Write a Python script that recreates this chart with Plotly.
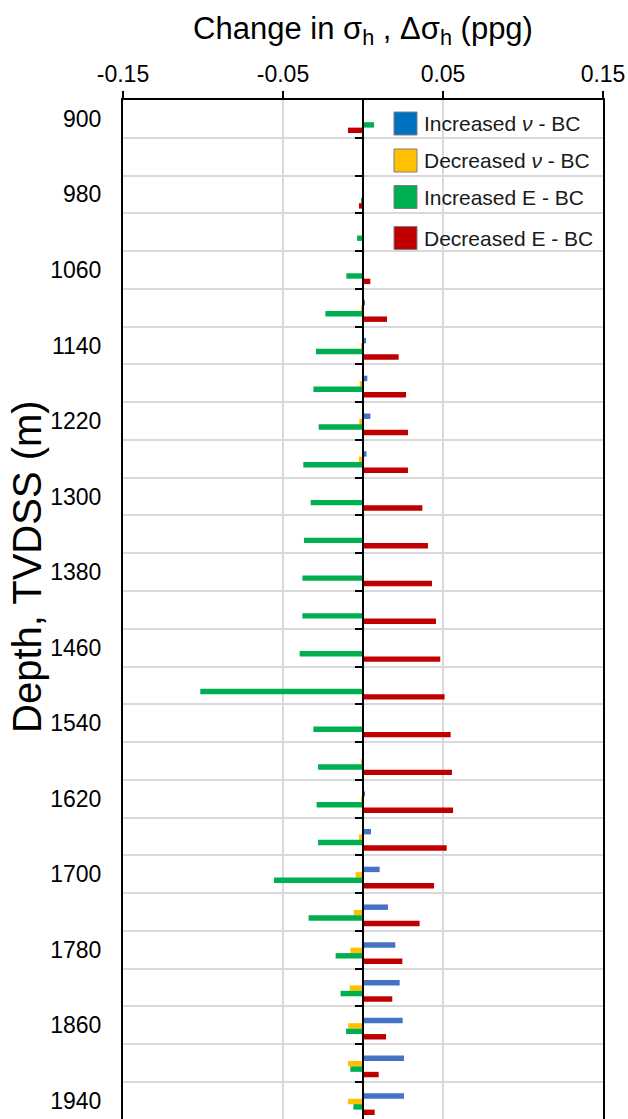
import plotly.graph_objects as go

# Depth of each interval (m TVDSS) and the depths that carry a label
depth_m = [900, 940, 980, 1020, 1060, 1100, 1140, 1180, 1220, 1260, 1300, 1340, 1380, 1420,
           1460, 1500, 1540, 1580, 1620, 1660, 1700, 1740, 1780, 1820, 1860, 1900, 1940]
depth_tick_labels = [900, 980, 1060, 1140, 1220, 1300, 1380, 1460, 1540, 1620, 1700, 1780, 1860, 1940]

# Change in minimum horizontal stress relative to the base case (ppg)
inc_nu = [0.0003, 0.0002, 0.0001, 0.0001, 0.0004, 0.0008, 0.0019, 0.0027, 0.0046, 0.0022,
          -0.0005, 0.0001, 0.0001, 0.0001, 0.0001, -0.0004, -0.0004, 0.0001, 0.0008, 0.0050,
          0.0104, 0.0156, 0.0202, 0.0229, 0.0248, 0.0256, 0.0256]
dec_nu = [0.0, 0.0, -0.0002, -0.0001, -0.0003, -0.0010, -0.0010, -0.0021, -0.0023, -0.0025,
          -0.0003, -0.0002, -0.0002, -0.0002, -0.0002, -0.0002, -0.0003, -0.0008, -0.0012, -0.0025,
          -0.0046, -0.0058, -0.0079, -0.0083, -0.0092, -0.0094, -0.0094]
inc_E = [0.0069, -0.0006, -0.0013, -0.0037, -0.0104, -0.0235, -0.0294, -0.0310, -0.0277, -0.0373,
         -0.0327, -0.0369, -0.0379, -0.0379, -0.0396, -0.1017, -0.0310, -0.0281, -0.0290, -0.0281,
         -0.0556, -0.0340, -0.0171, -0.0140, -0.0106, -0.0079, -0.0060]
dec_E = [-0.0094, -0.0006, -0.0025, 0.0001, 0.0046, 0.0150, 0.0223, 0.0269, 0.0281, 0.0281,
         0.0371, 0.0406, 0.0431, 0.0456, 0.0483, 0.0510, 0.0548, 0.0556, 0.0563, 0.0523,
         0.0444, 0.0354, 0.0246, 0.0183, 0.0144, 0.0098, 0.0073]

x_ticks = [-0.15, -0.05, 0.05, 0.15]
x_tick_text = ["-0.15", "-0.05", "0.05", "0.15"]

series_names = ["Increased <i>ν</i> - BC", "Decreased <i>ν</i> - BC",
                "Increased E - BC", "Decreased E - BC"]
series_values = [inc_nu, dec_nu, inc_E, dec_E]
bar_colors = ["#4472C4", "#FFC000", "#00B050", "#C00000"]
key_colors = ["#0070C0", "#FFC000", "#00B050", "#C00000"]
# Poisson's-ratio cases sit on the labelled depth axis, modulus cases on the
# zero-crossing axis; both axes share one depth range.
series_axes = ["y", "y", "y2", "y2"]

FONT = "Liberation Sans, Arial, sans-serif"
W, H = 628, 1119
M_L, M_R, M_T, M_B = 123, 25, 100, 0
PLOT_W = W - M_L - M_R
PLOT_H = H - M_T - M_B

# bar thickness and the offset of each series inside its 40 m interval
BAR_W = 5.75
bar_offsets = [-8.0, -2.25, 3.5, 9.25]

fig = go.Figure()
for name, vals, col, off, ax in zip(series_names, series_values, bar_colors, bar_offsets, series_axes):
    fig.add_trace(go.Bar(
        x=vals, y=depth_m, orientation="h", name=name,
        width=BAR_W, offset=off, yaxis=ax,
        marker=dict(color=col, line=dict(width=0)),
        showlegend=False,
    ))

# interval boundaries: grid lines and the small ticks on the zero axis
boundaries = [d + 20 for d in depth_m]
y_range = [1959.2, 880]


def fx(px):
    return (px - M_L) / PLOT_W


def fy(py):
    return (H - M_B - py) / PLOT_H


shapes = [
    # key background (covers grid lines, stays under the frame)
    dict(type="rect", xref="paper", yref="paper", x0=fx(382), x1=fx(601.5),
         y0=fy(257), y1=fy(101), fillcolor="white", line=dict(width=0), layer="between"),
]
annotations = [
    dict(xref="paper", yref="paper", x=fx(27), y=fy(567), xanchor="center", yanchor="middle",
         text="Depth, TVDSS (m)", textangle=-90, showarrow=False,
         font=dict(family=FONT, size=40, color="black")),
]
key_rows = [123.5, 160.5, 197, 238]
for name, col, cy in zip(series_names, key_colors, key_rows):
    shapes.append(dict(type="rect", xref="paper", yref="paper",
                       x0=fx(394), x1=fx(417), y0=fy(cy + 11.5), y1=fy(cy - 11.5),
                       fillcolor=col, line=dict(color="#7F7F7F", width=1), layer="above"))
    annotations.append(dict(xref="paper", yref="paper", x=fx(422), y=fy(cy),
                            xanchor="left", yanchor="middle", text=name, showarrow=False,
                            font=dict(family=FONT, size=21, color="#1A1A1A")))

fig.update_layout(
    template="none",
    width=W, height=H,
    margin=dict(l=M_L, r=M_R, t=M_T, b=M_B, pad=0),
    paper_bgcolor="white", plot_bgcolor="white",
    barmode="overlay",
    showlegend=False,
    font=dict(family=FONT, color="black"),
    xaxis=dict(
        side="top", range=[-0.15, 0.15],
        tickvals=x_ticks, ticktext=x_tick_text,
        tickfont=dict(size=23, color="black"),
        ticks="outside", ticklen=7, tickwidth=2, tickcolor="black",
        showline=True, linecolor="black", linewidth=2, mirror=False,
        showgrid=True, gridcolor="#D9D9D9", gridwidth=2, zeroline=False,
        title=dict(text="Change in σ<sub>h</sub> , Δσ<sub>h</sub> (ppg)",
                   font=dict(size=31, color="black"), standoff=12),
    ),
    yaxis=dict(
        range=y_range, tickvals=depth_tick_labels,
        ticktext=[str(v) for v in depth_tick_labels],
        tickfont=dict(size=23, color="black"), ticklabelstandoff=15,
        ticks="", showgrid=False, zeroline=False,
        showline=True, linecolor="black", linewidth=2, mirror=True,
    ),
    yaxis2=dict(
        overlaying="y", anchor="free", position=0.5, side="left",
        range=y_range, tickvals=boundaries, showticklabels=False,
        ticks="outside", ticklen=7, tickwidth=2, tickcolor="black",
        showline=True, linecolor="black", linewidth=2,
        showgrid=True, gridcolor="#D9D9D9", gridwidth=2, zeroline=False,
    ),
    shapes=shapes,
    annotations=annotations,
)

fig.write_html("out.html")
